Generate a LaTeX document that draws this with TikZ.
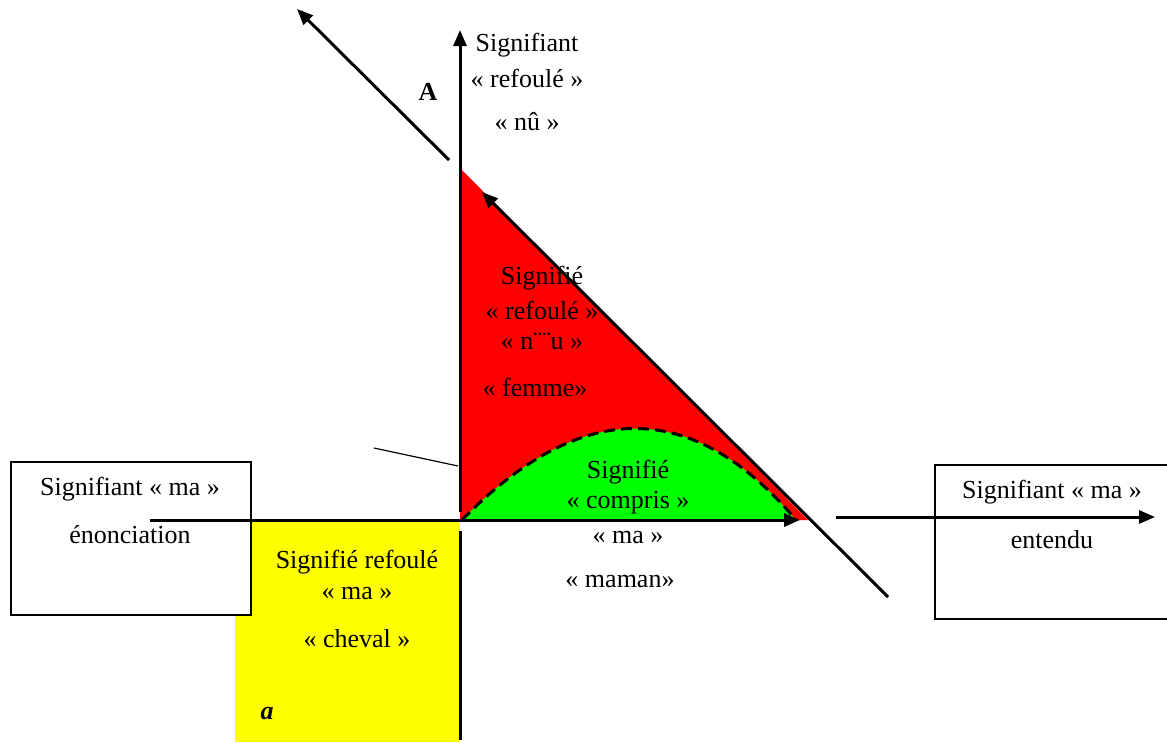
\documentclass[tikz,border=0pt]{standalone}
\usepackage{fontspec}
\setmainfont{Liberation Serif}
\usetikzlibrary{arrows.meta}
\definecolor{fyellow}{RGB}{255,255,0}
\definecolor{fred}{RGB}{255,0,0}
\definecolor{fgreen}{RGB}{0,255,0}
\begin{document}
\begin{tikzpicture}[x=1pt,y=-1pt,
  lbl/.style={inner sep=0pt,align=center,font=\fontsize{26}{30}\selectfont},
  axis/.style={line width=3pt},
  arr/.style={line width=3pt,-{Triangle[length=16pt,width=13pt]}},
  boxst/.style={draw,line width=1.5pt,fill=white}]
\useasboundingbox (0,0) rectangle (1167,742);
\clip (0,0) rectangle (1167,742);
% coordinates
\coordinate (O) at (460,520);
\coordinate (Rtop) at (460,168);
\coordinate (Rright) at (808,520);
\coordinate (vtop) at (460,30);
\coordinate (vbot) at (460,512);
\coordinate (vlow1) at (460,531);
\coordinate (vlow2) at (460,740);
\coordinate (hl) at (150,520);
\coordinate (hr) at (800,520);
\coordinate (d1) at (888,597);
\coordinate (d2) at (482,192);
\coordinate (u1) at (449,160);
\coordinate (u2) at (297,9);
\coordinate (t1) at (374,448);
\coordinate (t2) at (458,466);
\coordinate (r1) at (836,517);
\coordinate (r2) at (1155,517);
\coordinate (gL) at (462,520);
\coordinate (gR) at (796,520);
% fills
\fill[fyellow] (235,522) rectangle (460,742);
\fill[fred] (Rtop) -- (O) -- (Rright) -- cycle;
\fill[fgreen] (gL) .. controls (581,398) and (693,398) .. (gR) -- cycle;
\draw[line width=3pt,dash pattern=on 11pt off 6pt] (gL) .. controls (581,398) and (693,398) .. (gR);
% boxes
\node[boxst,minimum width=240pt,minimum height=153pt,anchor=north west] (boxL) at (10,461) {};
\node[boxst,minimum width=240pt,minimum height=154pt,anchor=north west] (boxR) at (934,464) {};
% lines
\draw[arr] (vbot) -- (vtop);
\draw[axis] (vlow1) -- (vlow2);
\draw[arr] (hl) -- (hr);
\draw[arr] (d1) -- (d2);
\draw[arr] (u1) -- (u2);
\draw[line width=1.2pt] (t1) -- (t2);
\draw[arr] (r1) -- (r2);
% texts
\node[lbl] (s1) at (527,45) {Signifiant};
\node[lbl] (s2) at (527,78) {« refoulé »};
\node[lbl] (s3) at (527,122) {« nû »};
\node[lbl,font=\fontsize{26}{30}\selectfont\bfseries] (A) at (428,92) {A};
\node[lbl] (r1t) at (542,278) {Signifié};
\node[lbl] (r2t) at (542,310) {« refoulé »};
\node[lbl] (r3t) at (542,341) {« n¨¨u »};
\node[lbl] (r4t) at (535,387) {« femme»};
\node[lbl] (g1) at (628,472) {Signifié};
\node[lbl] (g2) at (628,503) {« compris »};
\node[lbl] (m1) at (628,537) {« ma »};
\node[lbl] (m2) at (620,581) {« maman»};
\node[lbl] (l1) at (130,489) {Signifiant « ma »};
\node[lbl] (l2) at (130,535) {énonciation};
\node[lbl] (y1) at (357,562) {Signifié refoulé};
\node[lbl] (y2) at (357,593) {« ma »};
\node[lbl] (y3) at (357,639) {« cheval »};
\node[lbl,font=\fontsize{26}{30}\selectfont\bfseries\itshape] (a) at (267,714) {a};
\node[lbl] (e1) at (1052,492) {Signifiant « ma »};
\node[lbl] (e2) at (1052,540) {entendu};
\end{tikzpicture}
\end{document}
